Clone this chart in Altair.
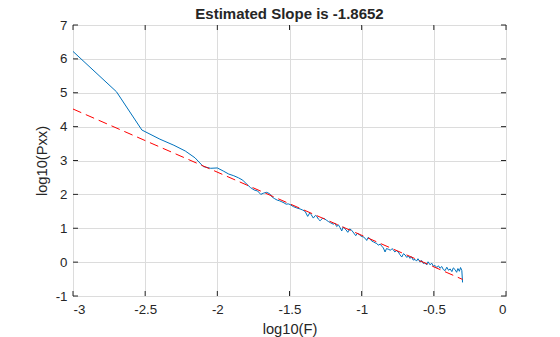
import altair as alt
import pandas as pd

# Blue periodogram: log10(F) and log10(Pxx)
logf = [-3.0, -2.699, -2.523, -2.398, -2.301, -2.222, -2.155, -2.097, -2.046, -2.0,
        -1.959, -1.921, -1.886, -1.854, -1.824, -1.796, -1.770, -1.745, -1.721, -1.699,
        -1.678, -1.658, -1.638, -1.620, -1.602, -1.585, -1.569, -1.553, -1.538, -1.523,
        -1.509, -1.496, -1.474, -1.45, -1.427, -1.41, -1.392, -1.374, -1.36, -1.351,
        -1.335, -1.32, -1.311, -1.30, -1.288, -1.27, -1.258, -1.245, -1.231, -1.215,
        -1.196, -1.185, -1.173, -1.161, -1.15, -1.138, -1.128, -1.120, -1.108, -1.096,
        -1.083, -1.069, -1.055, -1.041, -1.03, -1.018, -1.005, -0.988, -0.975, -0.965,
        -0.955, -0.942, -0.93, -0.919, -0.907, -0.895, -0.885, -0.872, -0.86, -0.85,
        -0.838, -0.828, -0.815, -0.80, -0.79, -0.780, -0.77, -0.76, -0.746, -0.735,
        -0.722, -0.71, -0.699, -0.688, -0.676, -0.665, -0.655, -0.643, -0.630, -0.62,
        -0.61, -0.595, -0.585, -0.573, -0.561, -0.55, -0.54, -0.526, -0.515, -0.503,
        -0.491, -0.48, -0.468, -0.457, -0.445, -0.434, -0.422, -0.41, -0.398, -0.387,
        -0.375, -0.365, -0.353, -0.342, -0.333, -0.323, -0.315, -0.306, -0.301]
logp = [6.22, 5.03, 3.90, 3.63, 3.45, 3.28, 3.08, 2.82, 2.77, 2.78,
        2.69, 2.60, 2.55, 2.49, 2.42, 2.30, 2.20, 2.13, 2.10, 2.00,
        2.04, 2.06, 2.02, 1.92, 1.87, 1.83, 1.81, 1.78, 1.75, 1.71,
        1.72, 1.70, 1.64, 1.60, 1.57, 1.54, 1.50, 1.35, 1.45, 1.41,
        1.30, 1.38, 1.35, 1.27, 1.22, 1.30, 1.28, 1.24, 1.20, 1.16,
        1.12, 1.15, 1.05, 1.10, 1.02, 0.92, 1.04, 1.00, 0.95, 0.88,
        0.98, 0.94, 0.86, 0.78, 0.85, 0.82, 0.77, 0.74, 0.70, 0.64,
        0.73, 0.69, 0.62, 0.60, 0.57, 0.55, 0.50, 0.53, 0.47, 0.42,
        0.30, 0.40, 0.38, 0.35, 0.40, 0.36, 0.30, 0.34, 0.30, 0.22,
        0.15, 0.25, 0.21, 0.14, 0.18, 0.11, 0.16, 0.06, 0.08, 0.03,
        0.10, 0.00, 0.05, -0.04, -0.02, -0.08, 0.01, -0.08, -0.03, -0.12,
        -0.10, -0.16, -0.11, -0.18, -0.13, -0.22, -0.25, -0.15, -0.24, -0.20,
        -0.28, -0.17, -0.22, -0.30, -0.19, -0.27, -0.16, -0.25, -0.60]

# Red dashed fitted line endpoints
fit_x = [-3.0, -0.301]
fit_y = [4.52, -0.51]

x_ticks = [-3, -2.5, -2, -1.5, -1, -0.5, 0]
y_ticks = [-1, 0, 1, 2, 3, 4, 5, 6, 7]

W, H = 433, 271
TXT = "#262626"
FONT = "Liberation Sans"

df = pd.DataFrame({"logf": logf, "logp": logp})
df_fit = pd.DataFrame({"logf": fit_x, "logp": fit_y})
df_xt = pd.DataFrame({"logf": x_ticks})
df_yt = pd.DataFrame({"logp": y_ticks})

LBL = "datum.value + ''"
xscale = alt.Scale(domain=[-3, 0], nice=False, zero=False)
yscale = alt.Scale(domain=[-1, 7], nice=False, zero=False)
xaxis = alt.Axis(values=x_ticks, title="log10(F)", grid=True, ticks=False,
                 domain=False, labelPadding=6, titlePadding=6, labelExpr=LBL)
yaxis = alt.Axis(values=y_ticks, title="log10(Pxx)", grid=True, ticks=False,
                 domain=False, labelPadding=6, titlePadding=6, labelExpr=LBL)

X = alt.X("logf:Q", scale=xscale, axis=xaxis)
Y = alt.Y("logp:Q", scale=yscale, axis=yaxis)

blue = alt.Chart(df).mark_line(color="#0072BD", strokeWidth=1, interpolate="linear").encode(
    x=X, y=Y, order=alt.Order("logf:Q"))
red = alt.Chart(df_fit).mark_line(color="#FF0000", strokeWidth=1, strokeDash=[9, 5]).encode(
    x=X, y=Y)

tk = dict(color=TXT, strokeWidth=1)
bt = alt.Chart(df_xt).mark_rule(**tk).encode(x=X, y=alt.value(H), y2=alt.value(H - 5))
tt = alt.Chart(df_xt).mark_rule(**tk).encode(x=X, y=alt.value(0), y2=alt.value(5))
lt = alt.Chart(df_yt).mark_rule(**tk).encode(y=Y, x=alt.value(0), x2=alt.value(5))
rt = alt.Chart(df_yt).mark_rule(**tk).encode(y=Y, x=alt.value(W), x2=alt.value(W - 5))

chart = alt.layer(blue, red, bt, tt, lt, rt).properties(
    width=W, height=H, background="white",
    title=alt.TitleParams("Estimated Slope is -1.8652", fontSize=15, fontWeight="bold",
                          font=FONT, color=TXT, anchor="middle", offset=5, dy=9),
    autosize=alt.AutoSizeParams(type="none"),
    padding={"left": 73, "top": 25, "right": 54, "bottom": 41},
).configure_view(
    stroke=TXT, strokeWidth=1
).configure_axis(
    labelFont=FONT, titleFont=FONT, labelFontSize=13.3, titleFontSize=14.7,
    labelColor=TXT, titleColor=TXT, titleFontWeight="normal",
    gridColor="#dcdcdc", gridWidth=1
)

chart.save("out.html", embed_options={"renderer": "svg", "actions": False})
